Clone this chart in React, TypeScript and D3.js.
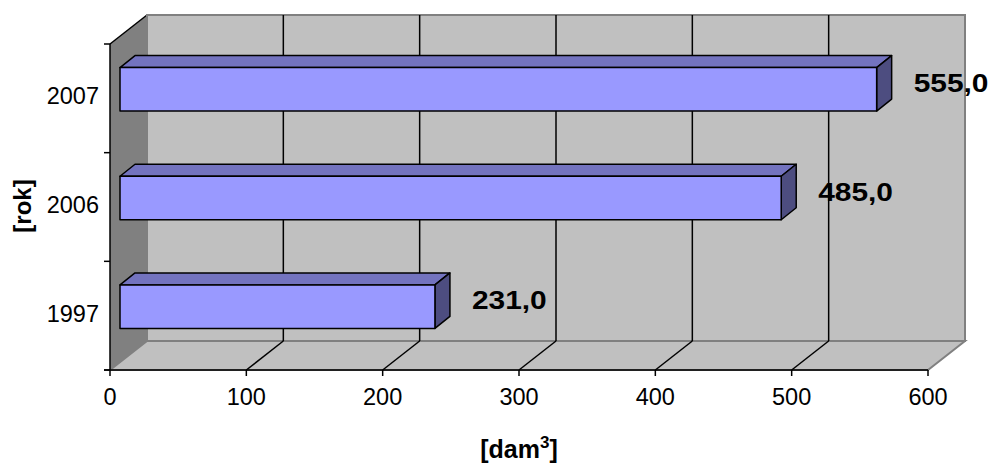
import React, { useEffect, useRef } from 'react';
import * as d3 from 'd3';

const years = ['2007', '2006', '1997'];
const volumes = [555.0, 485.0, 231.0];
const xTicks = [0, 100, 200, 300, 400, 500, 600];

const App: React.FC = () => {
  const svgRef = useRef<SVGSVGElement>(null);

  useEffect(() => {
    if (!svgRef.current) return;
    const width = 992;
    const height = 464;

    d3.select(svgRef.current).selectAll('*').remove();
    const svg = d3.select(svgRef.current)
      .attr('viewBox', [0, 0, width, height])
      .attr('width', width)
      .attr('height', height)
      .style('font-family', '"Liberation Sans", Arial, sans-serif');

    // front plane scales
    const x = d3.scaleLinear().domain([0, 600]).range([110, 928]);
    const y = d3.scaleBand<string>().domain(years).range([44, 370]);

    // depth of the 3D box
    const DX = 37;
    const DY = -29;
    // bar placement inside depth
    const BX = 10;
    const BY = -9;
    const BDX = 15;
    const BDY = -12;
    const barH = y.bandwidth() * 0.4;

    const x0 = x(0);
    const x1 = x(600);
    const yTop = 44;
    const yBot = 370;
    const pts = (p: number[][]) => p.map(d => d.join(',')).join(' ');

    // left wall
    svg.append('polygon')
      .attr('points', pts([[x0, yTop], [x0 + DX, yTop + DY], [x0 + DX, yBot + DY], [x0, yBot]]))
      .attr('fill', '#808080');
    svg.append('line')
      .attr('x1', x0).attr('y1', yTop).attr('x2', x0 + DX).attr('y2', yTop + DY)
      .attr('stroke', '#000').attr('stroke-width', 1.5);

    // back wall
    svg.append('rect')
      .attr('x', x0 + DX).attr('y', yTop + DY)
      .attr('width', x1 - x0).attr('height', yBot - yTop)
      .attr('fill', '#c0c0c0')
      .attr('stroke', '#808080').attr('stroke-width', 2);

    // floor
    svg.append('polygon')
      .attr('points', pts([[x0, yBot], [x0 + DX, yBot + DY], [x1 + DX, yBot + DY], [x1, yBot]]))
      .attr('fill', '#c0c0c0')
      .attr('stroke', '#808080').attr('stroke-width', 2);

    // gridlines on wall and floor
    const inner = xTicks.filter(t => t > 0 && t < 600);
    svg.append('g').selectAll('line').data(inner).join('line')
      .attr('x1', d => x(d) + DX).attr('x2', d => x(d) + DX)
      .attr('y1', yTop + DY).attr('y2', yBot + DY)
      .attr('stroke', '#000').attr('stroke-width', 1.5);
    svg.append('g').selectAll('line').data(inner).join('line')
      .attr('x1', d => x(d)).attr('y1', yBot)
      .attr('x2', d => x(d) + DX).attr('y2', yBot + DY)
      .attr('stroke', '#000').attr('stroke-width', 1.5);

    // bars
    const bars = svg.append('g')
      .selectAll('g')
      .data(years.map((yr, i) => ({ yr, v: volumes[i] })))
      .join('g')
      .attr('stroke', '#000')
      .attr('stroke-width', 1.5)
      .attr('stroke-linejoin', 'round');

    const geo = (d: { yr: string; v: number }) => {
      const c = (y(d.yr) as number) + y.bandwidth() / 2;
      return {
        l: x(0) + BX,
        r: x(d.v) + BX,
        t: c - barH / 2 + BY,
        b: c + barH / 2 + BY,
        c,
      };
    };

    bars.append('polygon')
      .attr('fill', '#7373bf')
      .attr('points', d => {
        const g = geo(d);
        return pts([[g.l, g.t], [g.l + BDX, g.t + BDY], [g.r + BDX, g.t + BDY], [g.r, g.t]]);
      });
    bars.append('polygon')
      .attr('fill', '#4d4d80')
      .attr('points', d => {
        const g = geo(d);
        return pts([[g.r, g.t], [g.r + BDX, g.t + BDY], [g.r + BDX, g.b + BDY], [g.r, g.b]]);
      });
    bars.append('rect')
      .attr('fill', '#9999ff')
      .attr('x', d => geo(d).l)
      .attr('y', d => geo(d).t)
      .attr('width', d => geo(d).r - geo(d).l)
      .attr('height', barH);

    // value labels
    svg.append('g').selectAll('text')
      .data(years.map((yr, i) => ({ yr, v: volumes[i] })))
      .join('text')
      .attr('transform', d => {
        const g = geo(d);
        return `translate(${g.r + BDX + 22},${g.c - 15}) scale(1.15,1)`;
      })
      .attr('dominant-baseline', 'central')
      .attr('font-size', 26)
      .attr('font-weight', 'bold')
      .attr('fill', '#000')
      .text(d => d.v.toFixed(1).replace('.', ','));

    // category axis
    svg.append('line')
      .attr('x1', x0).attr('x2', x0).attr('y1', yTop).attr('y2', yBot)
      .attr('stroke', '#000').attr('stroke-width', 1.5);
    const bounds = years.map(yr => y(yr) as number).concat([yBot]);
    svg.append('g').selectAll('line').data(bounds).join('line')
      .attr('x1', x0 - 6).attr('x2', x0)
      .attr('y1', d => d).attr('y2', d => d)
      .attr('stroke', '#000').attr('stroke-width', 1.5);
    svg.append('g').selectAll('text').data(years).join('text')
      .attr('x', x0 - 11)
      .attr('y', d => (y(d) as number) + y.bandwidth() / 2 - 2)
      .attr('text-anchor', 'end')
      .attr('dominant-baseline', 'central')
      .attr('font-size', 23.5)
      .text(d => d);

    // value axis
    svg.append('line')
      .attr('x1', x0 - 6).attr('x2', x1).attr('y1', yBot).attr('y2', yBot)
      .attr('stroke', '#000').attr('stroke-width', 1.5);
    svg.append('g').selectAll('line').data(xTicks).join('line')
      .attr('x1', d => x(d)).attr('x2', d => x(d))
      .attr('y1', yBot).attr('y2', yBot + 6)
      .attr('stroke', '#000').attr('stroke-width', 1.5);
    svg.append('g').selectAll('text').data(xTicks).join('text')
      .attr('x', d => x(d))
      .attr('y', 405)
      .attr('text-anchor', 'middle')
      .attr('font-size', 23.5)
      .text(d => d);

    // axis titles
    svg.append('text')
      .attr('transform', 'translate(31,206) rotate(-90)')
      .attr('text-anchor', 'middle')
      .attr('font-size', 24)
      .attr('font-weight', 'bold')
      .text('[rok]');

    const xt = svg.append('text')
      .attr('x', (x0 + x1) / 2)
      .attr('y', 458)
      .attr('text-anchor', 'middle')
      .attr('font-size', 25)
      .attr('font-weight', 'bold');
    xt.append('tspan').text('[dam');
    xt.append('tspan').attr('dy', -10).attr('font-size', 17).text('3');
    xt.append('tspan').attr('dy', 10).text(']');
  }, []);

  return (
    <div style={{ position: 'absolute', left: 0, top: 0, width: 992, height: 464, background: '#fff' }}>
      <svg ref={svgRef} style={{ display: 'block' }}></svg>
    </div>
  );
};

export default App;
